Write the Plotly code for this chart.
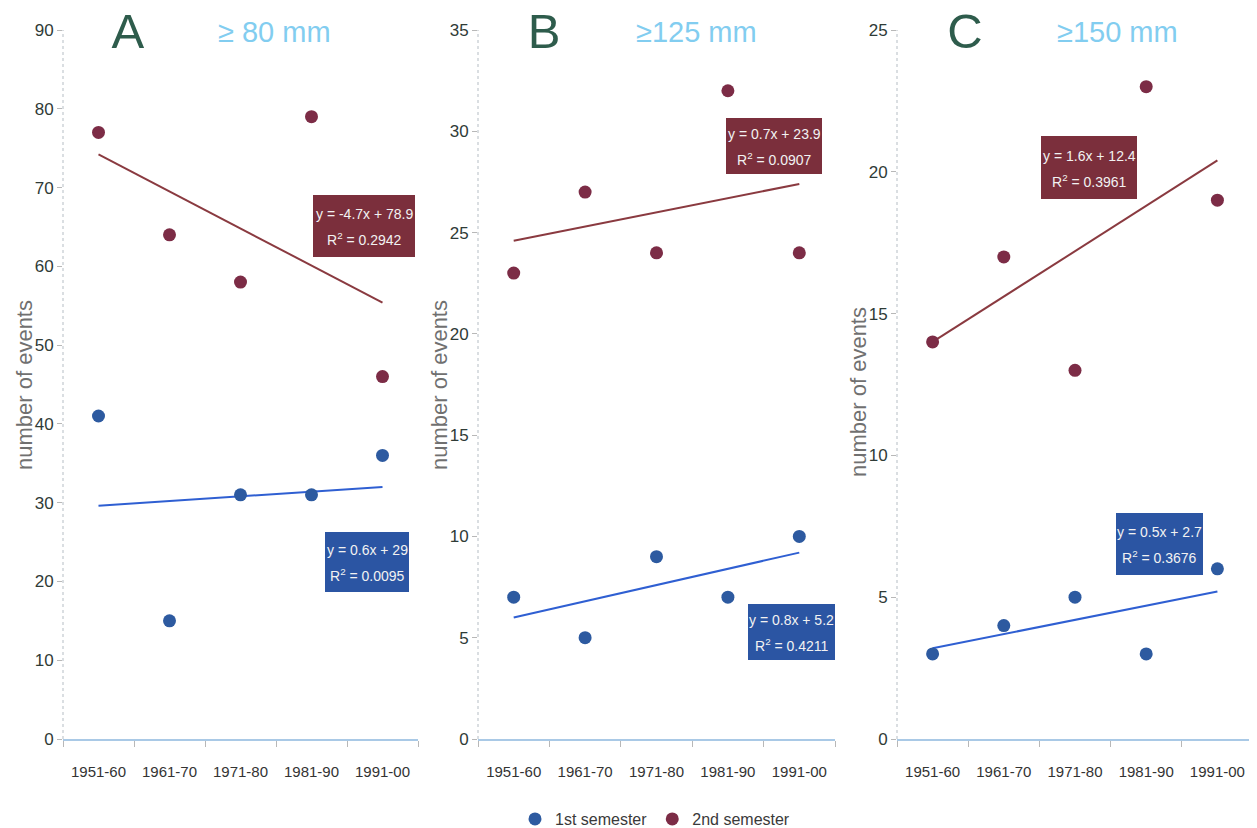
import numpy as np
import plotly.graph_objects as go

categories = ["1951-60", "1961-70", "1971-80", "1981-90", "1991-00"]

a_first = [41, 15, 31, 31, 36]
a_second = [77, 64, 58, 79, 46]
b_first = [7, 5, 9, 7, 10]
b_second = [23, 27, 24, 32, 24]
c_first = [3, 4, 5, 3, 6]
c_second = [14, 17, 13, 23, 19]

panel_letters = ["A", "B", "C"]
panel_subtitles = ["\u2265 80 mm", "\u2265125 mm", "\u2265150 mm"]
y_max = [90, 35, 25]
y_dtick = [10, 5, 5]

eq_first = [("y = 0.6x + 29", "0.0095"), ("y = 0.8x + 5.2", "0.4211"), ("y = 0.5x + 2.7", "0.3676")]
eq_second = [("y = -4.7x + 78.9", "0.2942"), ("y = 0.7x + 23.9", "0.0907"), ("y = 1.6x + 12.4", "0.3961")]

W, H = 1257, 828
OFF = 8  # page body margin offset
REG = "Liberation Sans, Arial"

BLUE_DOT = "#2d5aa0"
RED_DOT = "#7c2c46"
BLUE_LINE = "#2f5fd2"
RED_LINE = "#8a3a40"
BLUE_BOX = "#2b55a3"
RED_BOX = "#7b2f3c"


def px(v):
    return (v - OFF) / W


def py(v):
    return 1 - (v - OFF) / H


# pixel geometry (screen coordinates)
x_px = [(63, 418), (478, 835), (897, 1253)]
y_top, y_bot = 30, 739

fig = go.Figure()
data = [(a_first, a_second), (b_first, b_second), (c_first, c_second)]

for i, (first, second) in enumerate(data):
    xa = "x" if i == 0 else f"x{i+1}"
    ya = "y" if i == 0 else f"y{i+1}"
    xi = np.arange(1, 6)
    for vals, dot, line, name in [(first, BLUE_DOT, BLUE_LINE, "1st semester"),
                                  (second, RED_DOT, RED_LINE, "2nd semester")]:
        m, b = np.polyfit(xi, np.array(vals, dtype=float), 1)
        fig.add_trace(go.Scatter(x=categories, y=list(m * xi + b), mode="lines",
                                 line=dict(color=line, width=2), showlegend=False,
                                 hoverinfo="skip", xaxis=xa, yaxis=ya))
        fig.add_trace(go.Scatter(x=categories, y=vals, mode="markers", name=name,
                                 marker=dict(color=dot, size=13, line=dict(width=0)),
                                 showlegend=(i == 0), xaxis=xa, yaxis=ya))

layout = dict(
    width=W, height=H, margin=dict(l=0, r=0, t=0, b=0, autoexpand=False),
    paper_bgcolor="white", plot_bgcolor="white",
    showlegend=True,
    legend=dict(orientation="h", x=px(515), y=0, xanchor="left", yanchor="bottom",
                font=dict(family=REG, size=16, color="#3a3a3a"), itemwidth=30,
                tracegroupgap=0),
)
annotations = []
shapes = []
for i in range(3):
    sfx = "" if i == 0 else str(i + 1)
    x0, x1 = x_px[i]
    layout["xaxis" + sfx] = dict(
        domain=[px(x0), px(x1)], anchor="y" + sfx, type="category",
        range=[-0.5, 4.5], showgrid=False, zeroline=False,
        showline=True, linecolor="#a9c9e6", linewidth=1.5,
        ticks="outside", tickson="boundaries", ticklen=6, tickcolor="#b8b8b8",
        tickangle=0, ticklabelstandoff=18, automargin=False,
        tickfont=dict(family=REG, size=15, color="#333333"),
        fixedrange=True,
    )
    layout["yaxis" + sfx] = dict(
        domain=[py(y_bot), py(y_top)], anchor="x" + sfx,
        range=[0, y_max[i]], dtick=y_dtick[i], showgrid=False, zeroline=False,
        showline=False, ticks="outside", ticklen=5, tickcolor="#b8b8b8",
        automargin=False,
        tickfont=dict(family=REG, size=17, color="#2f3b37"),
        fixedrange=True,
    )
    # dotted y axis line
    shapes.append(dict(type="line", xref=f"x{sfx} domain", yref=f"y{sfx} domain",
                       x0=0, x1=0, y0=0, y1=1,
                       line=dict(color="#b5bdc4", width=1, dash="dot")))
    # panel letter and subtitle
    letter_x = [128, 544, 965][i]
    sub_x = [274, 697, 1117][i]
    annotations.append(dict(text=panel_letters[i], xref="paper", yref="paper",
                            x=px(letter_x), y=py(31), showarrow=False,
                            height=40, width=48, valign="middle", borderpad=0,
                            font=dict(family=REG, size=49, color="#2e5c4c"),
                            xanchor="center", yanchor="middle"))
    annotations.append(dict(text=panel_subtitles[i], xref="paper", yref="paper",
                            x=px(sub_x), y=py(32), showarrow=False,
                            font=dict(family=REG, size=29, color="#82cdf0"),
                            xanchor="center", yanchor="middle"))
    # y axis title
    ttl_x = [24, 439, 858][i]
    ttl_y = [385, 385, 392][i]
    annotations.append(dict(text="number of events", xref="paper", yref="paper",
                            x=px(ttl_x), y=py(ttl_y), showarrow=False, textangle=-90,
                            font=dict(family=REG, size=22, color="#707070"),
                            xanchor="center", yanchor="middle"))

# equation boxes: (left, right, top, bottom) in screen pixels
boxes_second = [(313, 415, 195, 257), (726, 822, 118, 174), (1041, 1137, 136, 199)]
boxes_first = [(325, 409, 532, 592), (748, 835, 604, 660), (1116, 1203, 513, 575)]
for i in range(3):
    for (eq, r2), (l, r, t, b), col in [(eq_second[i], boxes_second[i], RED_BOX),
                                         (eq_first[i], boxes_first[i], BLUE_BOX)]:
        shapes.append(dict(type="rect", xref="paper", yref="paper",
                           x0=px(l), x1=px(r), y0=py(b), y1=py(t),
                           fillcolor=col, line=dict(width=0), layer="above"))
        cx = (l + r) / 2
        cy = (t + b) / 2
        annotations.append(dict(text=eq, xref="paper", yref="paper",
                                x=px(cx), y=py(cy - 12), showarrow=False,
                                font=dict(family=REG, size=14, color="#f2f2f2"),
                                xanchor="center", yanchor="middle"))
        annotations.append(dict(text=f"R<sup>2</sup> = {r2}", xref="paper", yref="paper",
                                x=px(cx), y=py(cy + 13), showarrow=False,
                                font=dict(family=REG, size=14, color="#f2f2f2"),
                                xanchor="center", yanchor="middle"))

layout["annotations"] = annotations
layout["shapes"] = shapes
fig.update_layout(**layout)
fig.write_html("out.html")
